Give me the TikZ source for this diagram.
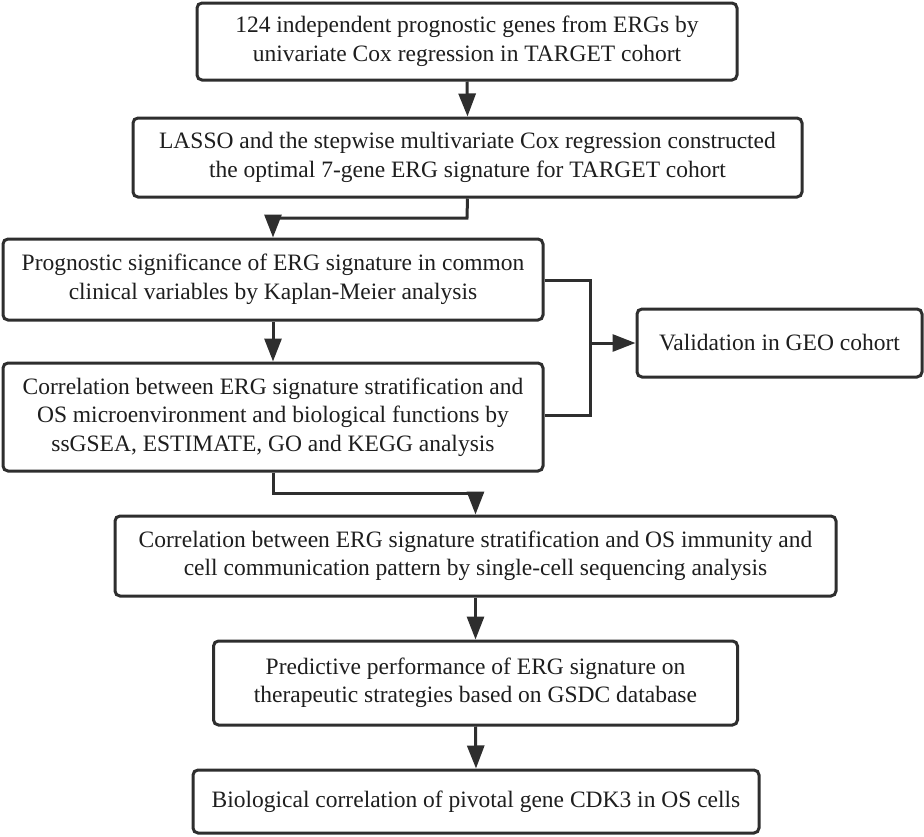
\documentclass[tikz,border=0pt]{standalone}
\usepackage{fontspec}
\setmainfont{Liberation Serif}
\newfontfamily\tnr{Liberation Serif}
\usetikzlibrary{arrows.meta,positioning}
\definecolor{ln}{HTML}{2E2E2E}
\definecolor{tx}{HTML}{1E1E1E}
\tikzset{
  box/.style={draw=ln, line width=3pt, rounded corners=5pt, fill=white,
    align=center, inner sep=0pt, text=tx,
    font=\tnr\fontsize{23.5}{28.5}\selectfont},
  conn/.style={draw=ln, line width=3pt},
  arr/.style={conn, -{Triangle[length=23pt,width=17pt]}},
}
\begin{document}
\begin{tikzpicture}[x=1pt,y=-1pt]
\useasboundingbox (0,0) rectangle (924,836);
\node[box, minimum width=540pt, minimum height=77pt] (b1) at (467,41.5)
  {124 independent prognostic genes from ERGs by\\univariate Cox regression in TARGET cohort};
\node[box, minimum width=669pt, minimum height=79pt] (b2) at (467.5,157.5)
  {LASSO and the stepwise multivariate Cox regression constructed\\the optimal 7-gene ERG signature for TARGET cohort};
\node[box, minimum width=540pt, minimum height=81pt] (b3) at (273,279.5)
  {Prognostic significance of ERG signature in common\\clinical variables by Kaplan-Meier analysis};
\node[box, minimum width=540pt, minimum height=108pt] (b4) at (273,417)
  {Correlation between ERG signature stratification and\\OS microenvironment and biological functions by\\ssGSEA, ESTIMATE, GO and KEGG analysis};
\node[box, minimum width=285pt, minimum height=68pt] (geo) at (779.5,343)
  {Validation in GEO cohort};
\node[box, minimum width=721pt, minimum height=80pt] (b5) at (475.5,556)
  {Correlation between ERG signature stratification and OS immunity and\\cell communication pattern by single-cell sequencing analysis};
\node[box, minimum width=524pt, minimum height=84pt] (b6) at (475.5,683)
  {Predictive performance of ERG signature on\\therapeutic strategies based on GSDC database};
\node[box, minimum width=566pt, minimum height=63pt] (b7) at (476,801.5)
  {Biological correlation of pivotal gene CDK3 in OS cells};
% connectors
\draw[arr] (b1.south) -- (b2.north);
\draw[arr] (b2.south) -- (467,218) -- (273,218) -- (b3.north);
\draw[arr] (b3.south) -- (b4.north);
\coordinate (jt) at (590,280);
\coordinate (jb) at (590,415);
\coordinate (jm) at (590,343);
\draw[conn] (b3.east |- jt) -- (jt) -- (jb) -- (b4.east |- jb);
\draw[arr] (jm) -- (geo.west);
\draw[arr] (b4.south) -- (273,493) -- (475.5,493) -- (b5.north);
\draw[arr] (b5.south) -- (b6.north);
\draw[arr] (b6.south) -- (b7.north);
\end{tikzpicture}
\end{document}
